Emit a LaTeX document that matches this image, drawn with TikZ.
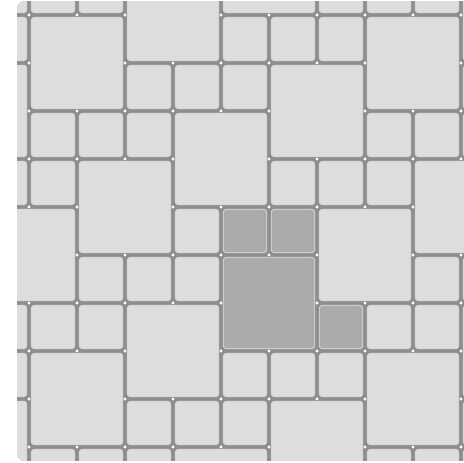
\documentclass[tikz,border=0pt]{standalone}
\usepackage{tikz}
\usetikzlibrary{positioning}

\definecolor{grout}{HTML}{8E8E8E}
\definecolor{tilelight}{HTML}{DDDDDD}
\definecolor{tiledark}{HTML}{ABABAB}

\tikzset{
  smalltile/.style={draw=white!75!grout,line width=0.7pt,fill=tilelight,rounded corners=3pt,minimum width=43.4pt,minimum height=43.4pt,inner sep=0pt,outer sep=0pt},
  bigtile/.style={smalltile,minimum width=91.4pt,minimum height=91.4pt},
  darktile/.style={fill=tiledark}
}

\begin{document}
\begin{tikzpicture}[x=1pt,y=-1pt]
\useasboundingbox (0,0) rectangle (464,463);
\begin{scope}
\clip[rounded corners=8pt] (17,1) rectangle (490,461);
\fill[grout] (17,1) rectangle (490,461);
% grout crossings
\foreach \i in {-1,...,10}{
  \foreach \j in {-1,...,10}{
    \fill[white] (29+48*\i,15+48*\j) circle (1.7pt);
  }
}
% small tiles, row by row
\foreach \r/\cols in {-1/{-1,0,1,6,7,8},0/{-1,4,5,6},1/{2,3,4,9},2/{0,1,2,7,8,9},3/{-1,0,5,6,7},4/{3},5/{1,2,3,8,9},6/{-1,0,1,7,8},7/{-1,4,5,6},8/{2,3,4,9},9/{0,1,2,7,8,9}}{
  \foreach \c in \cols {
    \node[smalltile] (sm_\c_\r) at (53+48*\c,39+48*\r) {};
  }
}
% big tiles (top left cell)
\foreach \c/\r in {2/-1,4/-2,9/-1,0/0,7/0,-2/1,5/1,3/2,1/3,8/3,-1/4,6/4,2/6,0/7,7/7,9/6,-2/8,5/8,3/9}{
  \node[bigtile] (bg_\c_\r) at (77+48*\c,63+48*\r) {};
}
% darker group
\node[smalltile,darktile] (dk_a) at (53+48*4,39+48*4) {};
\node[smalltile,darktile] (dk_b) at (53+48*5,39+48*4) {};
\node[bigtile,darktile] (dk_c) at (77+48*4,63+48*5) {};
\node[smalltile,darktile] (dk_d) at (53+48*6,39+48*6) {};
\end{scope}
\end{tikzpicture}
\end{document}
